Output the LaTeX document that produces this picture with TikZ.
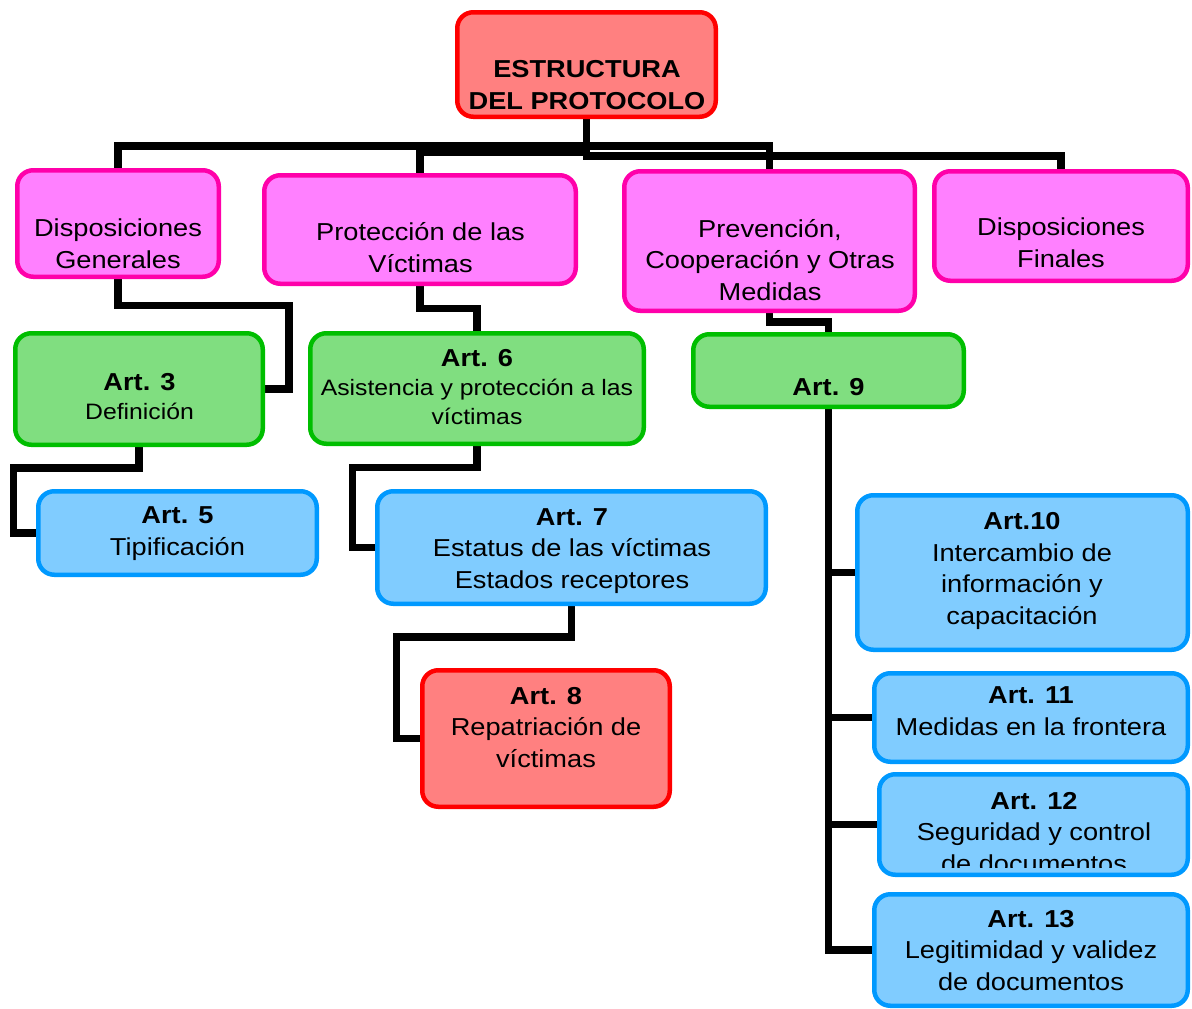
\documentclass[tikz,border=0pt]{standalone}
\usepackage{fontspec}
\setmainfont[FakeStretch=1.11]{Liberation Sans}
\usetikzlibrary{backgrounds}
\definecolor{cRedB}{RGB}{255,0,0}
\definecolor{cRedF}{RGB}{255,128,128}
\definecolor{cPinkB}{RGB}{255,0,170}
\definecolor{cPinkF}{RGB}{255,128,255}
\definecolor{cGreenB}{RGB}{0,190,0}
\definecolor{cGreenF}{RGB}{128,222,128}
\definecolor{cBlueB}{RGB}{0,153,255}
\definecolor{cBlueF}{RGB}{128,204,255}
\tikzset{
  box/.style={draw, rounded corners=16pt, line width=4.5pt, inner sep=0pt},
  redbox/.style={box, draw=cRedB, fill=cRedF},
  pinkbox/.style={box, draw=cPinkB, fill=cPinkF},
  greenbox/.style={box, draw=cGreenB, fill=cGreenF},
  bluebox/.style={box, draw=cBlueB, fill=cBlueF},
  txt/.style={align=center, inner sep=0pt, anchor=base, font=\fontsize{24.5}{31.5}\selectfont},
  stxt/.style={txt, font=\fontsize{22.3}{29}\selectfont},
  link/.style={line width=7.5pt, line join=miter, line cap=rect, draw=black}
}
\newcommand{\hd}[1]{{\fontsize{24.5}{29}\selectfont\bfseries #1}}
\begin{document}
\begin{tikzpicture}[x=1pt,y=-1pt]
\useasboundingbox (0,0) rectangle (1192,1009);
% boxes
\node[redbox,   minimum width=258.5pt, minimum height=104.5pt] (root) at (586.5,64.5) {};
\node[pinkbox,  minimum width=201.5pt, minimum height=106.5pt] (dg) at (118,223.5) {};
\node[pinkbox,  minimum width=311.5pt, minimum height=108.5pt] (pt) at (420,229.5) {};
\node[pinkbox,  minimum width=290.5pt, minimum height=139.5pt] (pv) at (769.5,241) {};
\node[pinkbox,  minimum width=253.5pt, minimum height=109.5pt] (df) at (1061,226) {};
\node[greenbox, minimum width=247.5pt, minimum height=111.5pt] (a3) at (139,389) {};
\node[greenbox, minimum width=333.5pt, minimum height=110.5pt] (a6) at (477,388.5) {};
\node[greenbox, minimum width=270.5pt, minimum height=72.5pt] (a9) at (828.5,370.5) {};
\node[bluebox,  minimum width=278.5pt, minimum height=83.5pt] (a5) at (177.5,533) {};
\node[bluebox,  minimum width=388.5pt, minimum height=112.5pt] (a7) at (571.5,547.5) {};
\node[redbox,   minimum width=247.5pt, minimum height=136.5pt] (a8) at (546,738.5) {};
\node[bluebox,  minimum width=330.5pt, minimum height=154.5pt] (a10) at (1022.5,572.5) {};
\node[bluebox,  minimum width=313.5pt, minimum height=88.5pt] (a11) at (1031,717.5) {};
\node[bluebox,  minimum width=308.5pt, minimum height=100.5pt] (a12) at (1033.5,824.5) {};
\node[bluebox,  minimum width=313.5pt, minimum height=111.5pt] (a13) at (1031,950) {};
% texts (anchored at the baseline of the last line)
\node[txt, font=\fontsize{24.5}{31.5}\selectfont\bfseries] (roott) at (587,109) {ESTRUCTURA\\DEL PROTOCOLO};
\node[txt] (dgt) at (118,268) {Disposiciones\\Generales};
\node[txt] (ptt) at (420.5,272) {Protección de las\\Víctimas};
\node[txt] (pvt) at (770,300) {Prevención,\\Cooperación y Otras\\Medidas};
\node[txt] (dft) at (1061,267) {Disposiciones\\Finales};
\node[stxt] (a3t) at (139.5,419) {\hd{Art. 3}\\Definición};
\node[stxt] (a6t) at (477,424) {\hd{Art. 6}\\Asistencia y protección a las\\víctimas};
\node[txt] (a9t) at (828.5,395) {\textbf{Art. 9}};
\node[txt] (a5t) at (177.5,555) {\textbf{Art. 5}\\Tipificación};
\node[txt] (a7t) at (572,588) {\textbf{Art. 7}\\Estatus de las víctimas\\Estados receptores};
\node[txt] (a8t) at (546,767) {\textbf{Art. 8}\\Repatriación de\\víctimas};
\node[txt] (a10t) at (1022,624) {\textbf{Art.10}\\Intercambio de\\información y\\capacitación};
\node[txt] (a11t) at (1031,735) {\textbf{Art. 11}\\Medidas en la frontera};
\begin{scope}
\clip (877,772) rectangle (1190,867);
\node[txt] (a12t) at (1034,872) {\textbf{Art. 12}\\Seguridad y control\\de documentos};
\end{scope}
\node[txt] (a13t) at (1031,990) {\textbf{Art. 13}\\Legitimidad y validez\\de documentos};
% connectors
\begin{scope}[on background layer]
\draw[link] (root.south) -- (root.south |- 0,156) -| (df.north);
\draw[link] (dg.north) |- (pv.north |- 0,146) -- (pv.north);
\draw[link] (pt.north) |- (root.south |- 0,152);
\draw[link] (dg.south) |- (289,305.5) |- (a3.east);
\draw[link] (pt.south) |- (a6.north |- 0,308.5) -- (a6.north);
\draw[link] (pv.south) |- (a9.north |- 0,322) -- (a9.north);
\draw[link] (a3.south) |- (13.5,468) |- (a5.west);
\draw[link] (a6.south) |- (352.5,467.5) |- (a7.west);
\draw[link] (a7.south) |- (396.5,637) |- (a8.west);
\draw[link] (a9.south) |- (a13.west);
\draw[link] (a9.south |- a10.west) -- (a10.west);
\draw[link] (a9.south |- a11.west) -- (a11.west);
\draw[link] (a9.south |- a12.west) -- (a12.west);
\end{scope}
\end{tikzpicture}
\end{document}
